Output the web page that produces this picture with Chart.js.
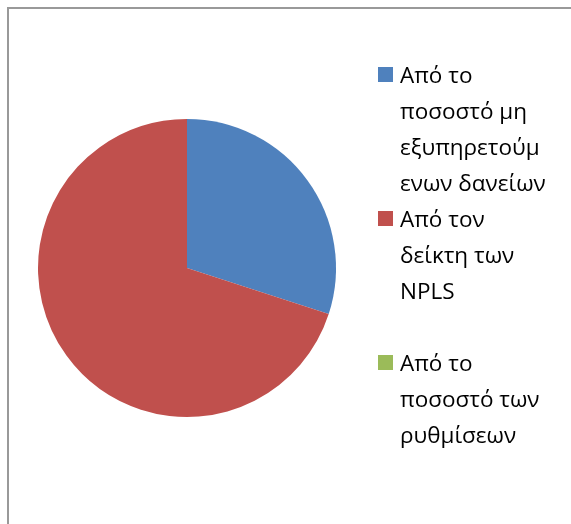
<!DOCTYPE html>
<html>
<head>
<meta charset="utf-8">
<script src="https://cdn.jsdelivr.net/npm/chart.js@4/dist/chart.umd.min.js"></script>
<style>
  body { margin: 0; background: #fff; overflow: hidden; }
  #wrap { position: relative; width: 571px; height: 524px; }
  #frame { position: absolute; left: 7px; top: 7px; width: 700px; height: 700px; border: 2px solid #999; box-sizing: border-box; }
  canvas { position: absolute; left: 0; top: 0; }
</style>
</head>
<body>
<div id="wrap">
  <div id="frame"></div>
  <canvas id="pie_chart" width="571" height="524"></canvas>
</div>
<script>
// legend text, already broken into the rows it shows on
const labels = [
    ['Από το', 'ποσοστό μη', 'εξυπηρετούμ', 'ενων δανείων'],
    ['Από τον', 'δείκτη των', 'NPLS'],
    ['Από το', 'ποσοστό των', 'ρυθμίσεων']
];
const shares = [30, 70, 0];
const colors = ['#4F81BD', '#C0504D', '#9BBB59'];

// legend drawn by hand so each entry can wrap over several rows
const sideLegend = {
    id: 'sideLegend',
    afterDraw(chart) {
        const ctx = chart.ctx;
        const rowHeight = 36;
        const rowsPerItem = 4;
        ctx.save();
        ctx.font = '22.5px "Open Sans"';
        ctx.textBaseline = 'alphabetic';
        chart.data.labels.forEach((lines, i) => {
            const base = 83 + i * rowsPerItem * rowHeight;
            ctx.fillStyle = chart.data.datasets[0].backgroundColor[i];
            ctx.fillRect(378, base - 16, 15, 15);
            ctx.fillStyle = '#000';
            lines.forEach((line, j) => {
                ctx.fillText(line, 400, base + j * rowHeight);
            });
        });
        ctx.restore();
    }
};

const ctx = document.getElementById('pie_chart').getContext('2d');

new Chart(ctx, {
    type: 'pie',
    data: {
        labels: labels,
        datasets: [{
            data: shares,
            backgroundColor: colors,
            borderWidth: 0
        }]
    },
    options: {
        responsive: false,
        animation: false,
        layout: {
            padding: { left: 38, right: 235, top: 119, bottom: 107 }
        },
        plugins: {
            legend: { display: false },
            tooltip: { enabled: false }
        }
    },
    plugins: [sideLegend]
});
</script>
</body>
</html>
